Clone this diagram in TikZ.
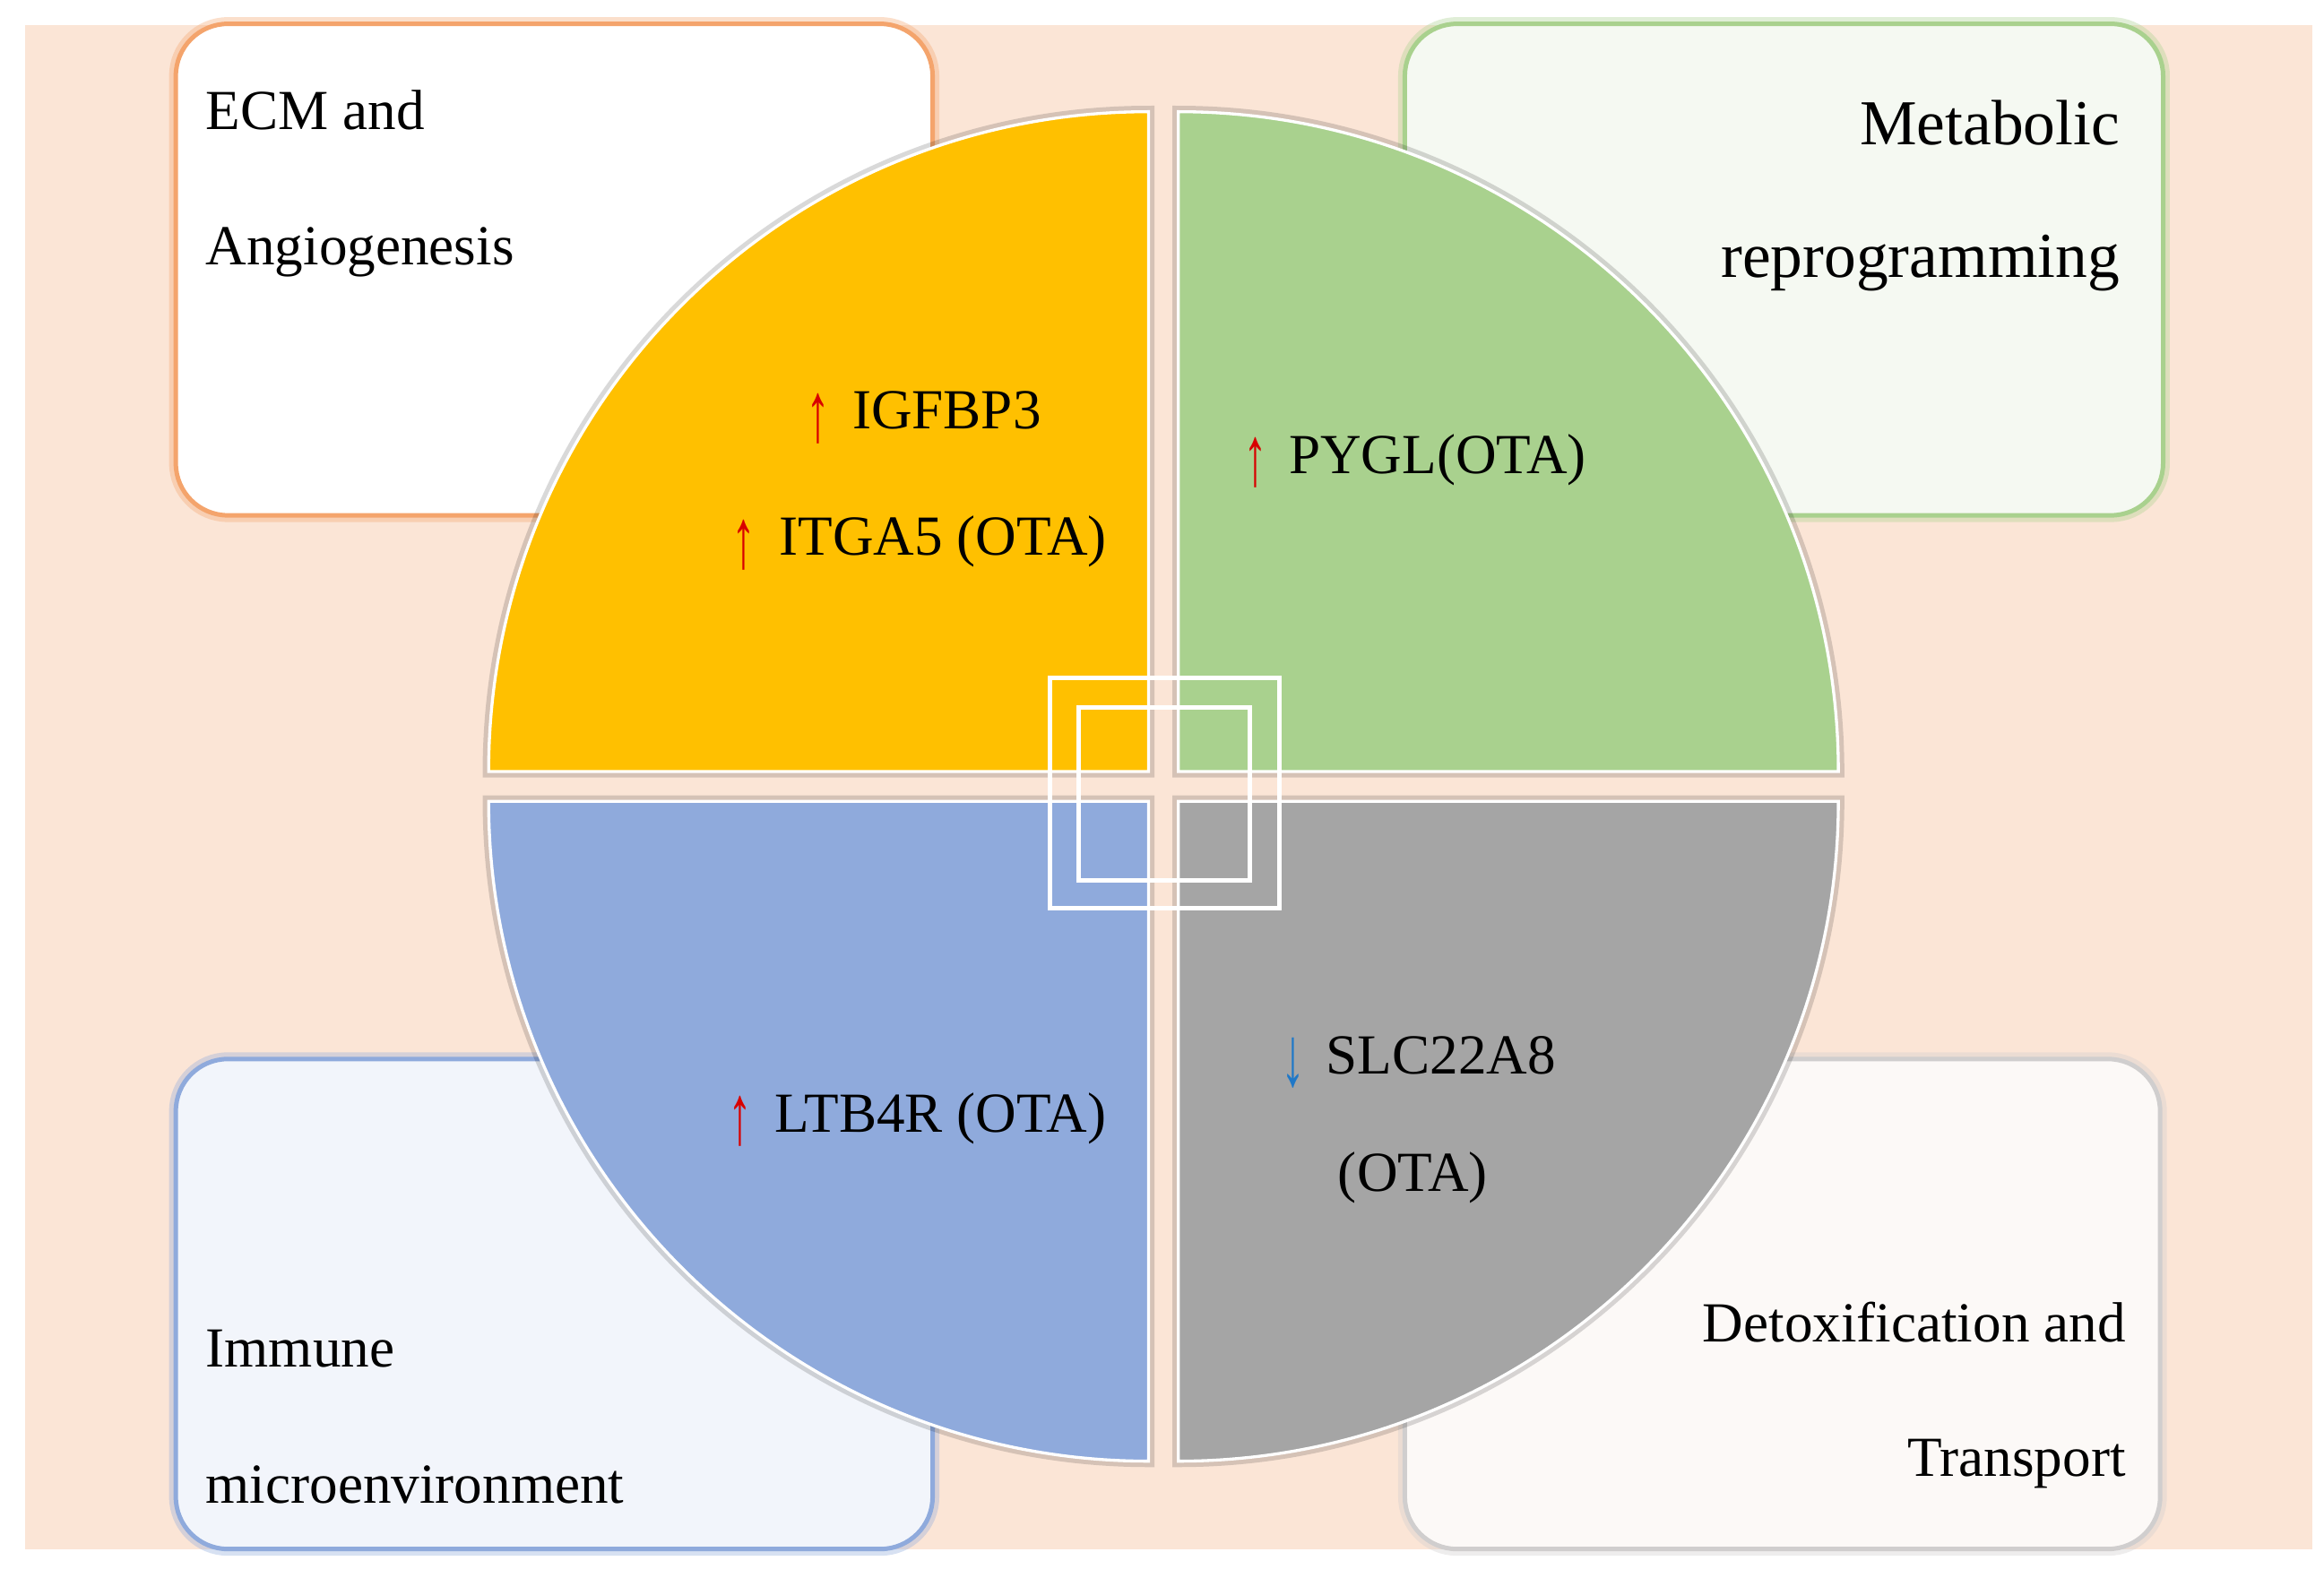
\documentclass[tikz,border=0pt]{standalone}
\usepackage{fontspec}
\setmainfont{Liberation Serif}
\definecolor{peach}{HTML}{FBE5D6}
\definecolor{qyellow}{HTML}{FFC000}
\definecolor{qgreen}{HTML}{A9D18E}
\definecolor{qblue}{HTML}{8FAADC}
\definecolor{qgrey}{HTML}{A5A5A5}
\definecolor{ecmline}{HTML}{F4A46C}
\definecolor{metline}{HTML}{A9D18E}
\definecolor{immline}{HTML}{8FAADC}
\definecolor{detline}{HTML}{D0CECE}
\definecolor{metfill}{HTML}{F5F9F2}
\definecolor{immfill}{HTML}{F2F5FB}
\definecolor{detfill}{HTML}{FCF9F7}
\definecolor{arrred}{HTML}{D80000}
\definecolor{arrblue}{HTML}{1F78C8}
\newcommand{\tallarrow}[1]{\raisebox{-8pt}{\scalebox{0.85}[1.5]{#1}}}
\begin{document}
\begin{tikzpicture}[x=1pt,y=-1pt,
  lab/.style={font=\fontsize{38pt}{46pt}\selectfont, inner sep=0pt, text=black},
  biglab/.style={font=\fontsize{43pt}{50pt}\selectfont, inner sep=0pt, text=black},
  uparr/.style={font=\fontsize{38pt}{46pt}\selectfont, inner sep=0pt, text=arrred, anchor=base},
  dnarr/.style={font=\fontsize{38pt}{46pt}\selectfont, inner sep=0pt, text=arrblue, anchor=base},
  boxglow/.style={draw=#1, draw opacity=0.35, line width=9pt, rounded corners=35pt},
  boxline/.style={draw=#1, line width=3pt, rounded corners=35pt},
  quadhalo/.style={draw=black, draw opacity=0.15, line width=8pt},
  quad/.style={fill=#1, draw=white, line width=2pt},
  sq/.style={draw=white, line width=3pt}]
\useasboundingbox (0,0) rectangle (1560,1059);
\fill[white] (0,0) rectangle (1560,1059);
\fill[peach] (17,17) rectangle (1552,1040);
% category boxes
\path[boxglow=ecmline] (118,16) rectangle (626,346);
\path[boxline=ecmline, fill=white] (118,16) rectangle (626,346);
\path[boxglow=metline] (943,16) rectangle (1452,346);
\path[boxline=metline, fill=metfill] (943,16) rectangle (1452,346);
\path[boxglow=immline] (118,711) rectangle (626,1040);
\path[boxline=immline, fill=immfill] (118,711) rectangle (626,1040);
\path[boxglow=detline] (943,711) rectangle (1450,1040);
\path[boxline=detline, fill=detfill] (943,711) rectangle (1450,1040);
% box titles
\node[lab, anchor=base west] (ecmA) at (138,87) {ECM and};
\node[lab, anchor=base west] (ecmB) at (138,178) {Angiogenesis};
\node[biglab, anchor=base east] (metA) at (1423,97) {Metabolic};
\node[biglab, anchor=base east] (metB) at (1423,186) {reprogramming};
\node[lab, anchor=base west] (immA) at (138,918) {Immune};
\node[lab, anchor=base west] (immB) at (138,1009) {microenvironment};
\node[lab, anchor=base east] (detA) at (1427,901) {Detoxification and};
\node[lab, anchor=base east] (detB) at (1427,991) {Transport};
% quadrant halos
\path[quadhalo] (771,518) -- ++(-443,0) arc[start angle=180, end angle=270, radius=443] -- cycle;
\path[quadhalo] (791,518) -- ++(443,0) arc[start angle=0, end angle=-90, radius=443] -- cycle;
\path[quadhalo] (771,538) -- ++(-443,0) arc[start angle=180, end angle=90, radius=443] -- cycle;
\path[quadhalo] (791,538) -- ++(443,0) arc[start angle=0, end angle=90, radius=443] -- cycle;
% quadrants
\path[quad=qyellow] (771,518) -- ++(-443,0) arc[start angle=180, end angle=270, radius=443] -- cycle;
\path[quad=qgreen] (791,518) -- ++(443,0) arc[start angle=0, end angle=-90, radius=443] -- cycle;
\path[quad=qblue] (771,538) -- ++(-443,0) arc[start angle=180, end angle=90, radius=443] -- cycle;
\path[quad=qgrey] (791,538) -- ++(443,0) arc[start angle=0, end angle=90, radius=443] -- cycle;
% genes
\node[uparr] (arA) at (549,288) {\tallarrow{↑}};
\node[lab, anchor=base west] (geneA) at (572,288) {IGFBP3};
\node[uparr] (arB) at (499,373) {\tallarrow{↑}};
\node[lab, anchor=base west] (geneB) at (523,373) {ITGA5 (OTA)};
\node[uparr] (arC) at (843,318) {\tallarrow{↑}};
\node[lab, anchor=base west] (geneC) at (865,318) {PYGL(OTA)};
\node[uparr] (arD) at (497,760) {\tallarrow{↑}};
\node[lab, anchor=base west] (geneD) at (520,760) {LTB4R (OTA)};
\node[dnarr] (arE) at (868,721) {\tallarrow{↓}};
\node[lab, anchor=base west] (geneE) at (890,721) {SLC22A8};
\node[lab, anchor=base west] (geneF) at (898,800) {(OTA)};
% centre squares
\draw[sq] (705,455) rectangle (859,610);
\draw[sq] (724,475) rectangle (839,591);
\end{tikzpicture}
\end{document}
